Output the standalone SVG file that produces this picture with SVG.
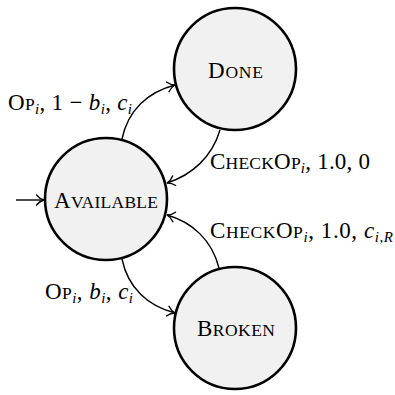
<svg xmlns="http://www.w3.org/2000/svg" width="395" height="395" viewBox="0 0 395 395">
<style>
.node{fill:#f1f1f1;stroke:#000;stroke-width:2.6}
.t{font-family:"Liberation Serif","Times New Roman",serif;font-size:23px;fill:#000}
.sc{font-size:17.5px}
.it{font-style:italic}
.sub{font-size:15px;font-style:italic}
.edge{fill:none;stroke:#000;stroke-width:1.4;marker-end:url(#arr)}
</style>
<defs>
<marker id="arr" markerUnits="userSpaceOnUse" markerWidth="12" markerHeight="12" viewBox="-9 -6 10 12" refX="0" refY="0" orient="auto">
<path d="M-7.5,-5 C-5,-2 -2,-0.5 0,0 C-2,0.5 -5,2 -7.5,5" fill="none" stroke="#000" stroke-width="1.4" stroke-linecap="round"/>
</marker>
</defs>
<g id="connectors">
<path class="edge" d="M16,200 L44,200"/>
<path class="edge" d="M122,139 C128,110 148,92 175,85"/>
<path class="edge" d="M220,130 C212,157 192,175 167,183"/>
<path class="edge" d="M219,268 C212,240 192,222 167,215"/>
<path class="edge" d="M122,259 C128,288 148,306 175,313"/>
</g>
<g id="available">
<circle class="node" cx="106" cy="199" r="61"/>
<text class="t" x="54" y="208" textLength="104" lengthAdjust="spacing">A<tspan class="sc">VAILABLE</tspan></text>
</g>
<g id="done">
<circle class="node" cx="235" cy="69" r="61"/>
<text class="t" x="208" y="78" textLength="55" lengthAdjust="spacing">D<tspan class="sc">ONE</tspan></text>
</g>
<g id="broken">
<circle class="node" cx="235" cy="328" r="61"/>
<text class="t" x="197" y="336" textLength="78" lengthAdjust="spacing">B<tspan class="sc">ROKEN</tspan></text>
</g>
<g id="labels">
<text class="t" x="8" y="110" textLength="124" lengthAdjust="spacing">O<tspan class="sc">P</tspan><tspan class="sub" dy="4">i</tspan><tspan dy="-4">, 1 − </tspan><tspan class="it">b</tspan><tspan class="sub" dy="4">i</tspan><tspan dy="-4">, </tspan><tspan class="it">c</tspan><tspan class="sub" dy="4">i</tspan></text>
<text class="t" x="210" y="169" textLength="160" lengthAdjust="spacing">C<tspan class="sc">HECK</tspan>O<tspan class="sc">P</tspan><tspan class="sub" dy="4">i</tspan><tspan dy="-4">, 1.0, 0</tspan></text>
<text class="t" x="210" y="238" textLength="183" lengthAdjust="spacing">C<tspan class="sc">HECK</tspan>O<tspan class="sc">P</tspan><tspan class="sub" dy="4">i</tspan><tspan dy="-4">, 1.0, </tspan><tspan class="it">c</tspan><tspan class="sub" dy="4">i,R</tspan></text>
<text class="t" x="45" y="299" textLength="88" lengthAdjust="spacing">O<tspan class="sc">P</tspan><tspan class="sub" dy="4">i</tspan><tspan dy="-4">, </tspan><tspan class="it">b</tspan><tspan class="sub" dy="4">i</tspan><tspan dy="-4">, </tspan><tspan class="it">c</tspan><tspan class="sub" dy="4">i</tspan></text>
</g>
</svg>
